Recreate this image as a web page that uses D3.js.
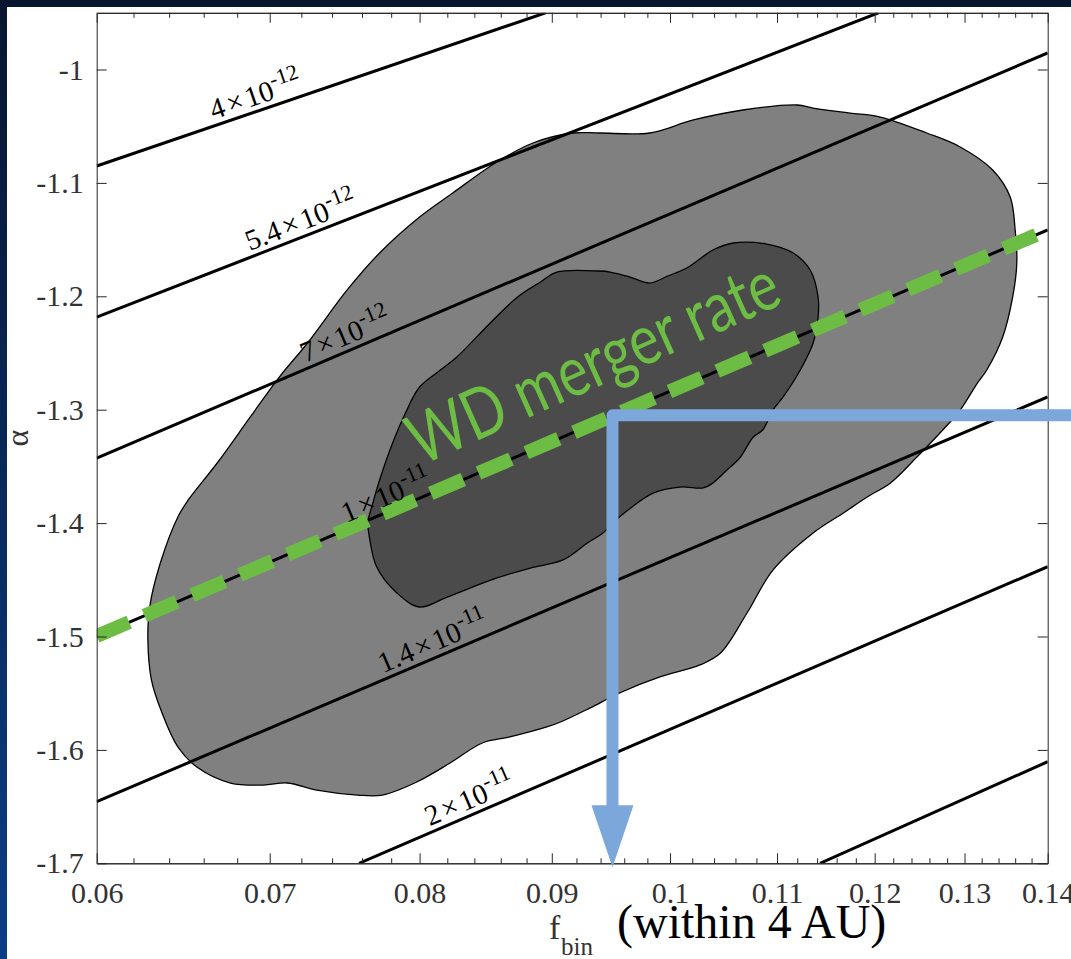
<!DOCTYPE html>
<html>
<head>
<meta charset="utf-8">
<script src="https://cdn.jsdelivr.net/npm/d3@7"></script>
<style>
  html, body { margin: 0; padding: 0; background: #0a1d45; }
  svg { display: block; }
</style>
</head>
<body>
<svg id="chart" width="1071" height="959"></svg>
<script>
// ---- axis ticks ----
const xTicks = [0.06, 0.07, 0.08, 0.09, 0.10, 0.11, 0.12, 0.13, 0.14];
const xTickLabels = ["0.06", "0.07", "0.08", "0.09", "0.1", "0.11", "0.12", "0.13", "0.14"];
const yTicks = [-1.7, -1.6, -1.5, -1.4, -1.3, -1.2, -1.1, -1.0];
const yTickLabels = ["-1.7", "-1.6", "-1.5", "-1.4", "-1.3", "-1.2", "-1.1", "-1"];

// ---- credible regions (f_bin, alpha) ----
const outerRegion = [
  [0.0939,-1.056],[0.0982,-1.056],[0.1021,-1.0445],[0.1067,-1.0357],[0.1120,-1.0313],[0.1136,-1.034],
  [0.1174,-1.0384],[0.1206,-1.0419],[0.1257,-1.056],[0.1295,-1.0683],[0.1333,-1.0886],[0.1354,-1.1124],
  [0.1360,-1.1415],[0.1362,-1.1706],[0.1357,-1.2006],[0.1345,-1.2359],[0.1326,-1.265],[0.1315,-1.2765],
  [0.1295,-1.3003],[0.1275,-1.3179],[0.1246,-1.3417],[0.1217,-1.3646],[0.1192,-1.377],[0.1167,-1.3911],
  [0.1136,-1.4087],[0.1096,-1.4414],[0.1071,-1.4793],[0.1046,-1.5146],[0.1027,-1.5251],[0.0991,-1.5357],
  [0.0956,-1.5498],[0.0931,-1.5631],[0.0907,-1.5754],[0.0896,-1.5798],[0.0867,-1.5886],[0.0846,-1.5939],
  [0.0822,-1.6116],[0.0798,-1.6283],[0.0774,-1.6398],[0.0757,-1.6398],[0.0730,-1.6354],[0.0711,-1.6292],
  [0.0696,-1.631],[0.0676,-1.6292],[0.0656,-1.6151],[0.0645,-1.5974],[0.0636,-1.5675],[0.0630,-1.5384],
  [0.0628,-1.5031],[0.0629,-1.474],[0.0635,-1.4352],[0.0645,-1.3946],[0.0651,-1.3796],[0.0668,-1.347],
  [0.0688,-1.3064],[0.0706,-1.2712],[0.0724,-1.2412],[0.0750,-1.1944],[0.0772,-1.1618],[0.0800,-1.1301],
  [0.0824,-1.1089],[0.0857,-1.0816],[0.0885,-1.0648],[0.0917,-1.056]
];
const innerRegion = [
  [0.0764,-1.399],[0.0767,-1.384],[0.0772,-1.362],[0.0781,-1.3294],[0.0790,-1.3029],[0.0800,-1.280],
  [0.0815,-1.265],[0.0827,-1.2535],[0.0852,-1.2235],[0.0873,-1.2006],[0.0891,-1.1874],[0.0904,-1.1786],
  [0.0939,-1.1777],[0.0948,-1.1786],[0.0965,-1.183],[0.0982,-1.1883],[0.0998,-1.1821],[0.1015,-1.175],
  [0.1039,-1.1592],[0.1058,-1.153],[0.1090,-1.1539],[0.1116,-1.1618],[0.1133,-1.1768],[0.1141,-1.2006],
  [0.1141,-1.2183],[0.1136,-1.2412],[0.1123,-1.265],[0.1106,-1.2888],[0.1096,-1.3003],[0.1086,-1.3179],
  [0.1077,-1.3241],[0.1064,-1.3426],[0.1052,-1.3532],[0.1039,-1.3646],[0.1030,-1.369],[0.1009,-1.3682],
  [0.0985,-1.3735],[0.0956,-1.3946],[0.0942,-1.4087],[0.0929,-1.4175],[0.0909,-1.4325],[0.0883,-1.4396],
  [0.0857,-1.4484],[0.0820,-1.4652],[0.0800,-1.474],[0.0784,-1.4616],[0.0770,-1.4387],[0.0765,-1.4123]
];

// ---- merger-rate iso-lines: end points (f_bin, alpha) ----
const rateLines = [
  [[0.06, -1.0851], [0.0895, -0.95]],
  [[0.06, -1.2183], [0.1204, -0.95]],
  [[0.06, -1.3426], [0.14, -0.9854]],
  [[0.06, -1.4996], [0.14, -1.1415]],
  [[0.06, -1.6457], [0.14, -1.2888]],
  [[0.0758, -1.70], [0.14, -1.4384]],
  [[0.1143, -1.70], [0.14, -1.6104]]
];
const rateMantissa = ["4", "5.4", "7", "1", "1.4", "2", null];
const rateExponent = ["-12", "-12", "-12", "-11", "-11", "-11", null];
const rateLabelF = [0.0667, 0.0689, 0.0724, 0.0751, 0.0776, 0.0809, null];

// ---- WD merger rate line and read-off arrow ----
const mergerLine = [[0.06, -1.4996], [0.14, -1.1415]];
const mergerText = "WD merger rate";
const mergerTextAt = [0.0801, -1.3497];
const readOff = [0.095, -1.305];

// ---- layout ----
const W = 1071, H = 959;
const svg = d3.select("#chart");
const x = d3.scaleLog().domain([0.06, 0.14]).range([96.7, 1047.7]);
const y = d3.scaleLinear().domain([-1.7, -0.95]).range([863.3, 12.8]);
const [x0, x1] = x.range();
const [yb, yt] = y.range();

// background
const defs = svg.append("defs");
const bg = defs.append("linearGradient").attr("id", "space")
  .attr("x1", 0).attr("y1", 0).attr("x2", 0).attr("y2", 1);
bg.append("stop").attr("offset", 0).attr("stop-color", "#07152f");
bg.append("stop").attr("offset", 1).attr("stop-color", "#0b3d85");
svg.append("rect").attr("width", W).attr("height", H).attr("fill", "url(#space)");
svg.append("rect").attr("x", 7).attr("y", 7).attr("width", W - 7).attr("height", H - 7).attr("fill", "#ffffff");

defs.append("clipPath").attr("id", "plotclip").append("rect")
  .attr("x", x0).attr("y", yt).attr("width", x1 - x0).attr("height", yb - yt);

const plot = svg.append("g").attr("clip-path", "url(#plotclip)");

const area = d3.line().x(d => x(d[0])).y(d => y(d[1])).curve(d3.curveCatmullRomClosed.alpha(0.5));
plot.append("path").attr("d", area(outerRegion))
  .attr("fill", "#808080").attr("stroke", "#000").attr("stroke-width", 1.3);
plot.append("path").attr("d", area(innerRegion))
  .attr("fill", "#4b4b4b").attr("stroke", "#000").attr("stroke-width", 1.3);

// iso-lines
const seg = d3.line().x(d => x(d[0])).y(d => y(d[1]));
plot.selectAll("path.rate").data(rateLines).join("path")
  .attr("class", "rate")
  .attr("d", d => seg(d))
  .attr("fill", "none").attr("stroke", "#000").attr("stroke-width", 3);

// iso-line labels
function lineAt(line, f) {
  const [a, b] = line;
  const px0 = x(a[0]), py0 = y(a[1]), px1 = x(b[0]), py1 = y(b[1]);
  const px = x(f);
  const t = (px - px0) / (px1 - px0);
  return { px, py: py0 + t * (py1 - py0), ang: Math.atan2(py1 - py0, px1 - px0) * 180 / Math.PI };
}
rateLines.forEach((line, i) => {
  if (rateMantissa[i] === null) return;
  const p = lineAt(line, rateLabelF[i]);
  const t = svg.append("text")
    .attr("transform", `translate(${p.px},${p.py}) rotate(${p.ang})`)
    .attr("y", -6)
    .attr("font-family", "'Liberation Serif', 'Times New Roman', serif")
    .attr("font-size", 29).attr("fill", "#000");
  t.append("tspan").text(rateMantissa[i]);
  t.append("tspan").attr("dx", 3).text("×");
  t.append("tspan").attr("dx", 3).text("10");
  t.append("tspan").attr("dy", -12).attr("font-size", 22).text(rateExponent[i]);
});

// WD merger rate dashed line
plot.append("path").attr("d", seg(mergerLine))
  .attr("fill", "none").attr("stroke", "#6dbd45").attr("stroke-width", 14)
  .attr("stroke-dasharray", "35.3,16.6");

const mAng = Math.atan2(y(mergerLine[1][1]) - y(mergerLine[0][1]), x(mergerLine[1][0]) - x(mergerLine[0][0])) * 180 / Math.PI;
svg.append("text")
  .attr("transform", `translate(${x(mergerTextAt[0])},${y(mergerTextAt[1])}) rotate(${mAng - 1.0}) scale(0.8,1)`)
  .attr("font-family", "Lato, 'Open Sans', sans-serif")
  .attr("font-size", 70).attr("fill", "#6dbd45")
  .text(mergerText);

// axes
const axisColor = "#262626";
const tickFont = "'Liberation Serif', 'Times New Roman', serif";
const xMinor = d3.range(60, 141, 2).filter(v => v % 10 !== 0).map(v => v / 1000);

function styleAxis(g) {
  g.selectAll("path.domain").attr("stroke", axisColor).attr("stroke-width", 1);
  g.selectAll(".tick line").attr("stroke", axisColor).attr("stroke-width", 1);
  g.selectAll(".tick text").attr("font-family", tickFont).attr("font-size", 30).attr("fill", "#333");
}

svg.append("g").attr("transform", `translate(0,${yb})`)
  .call(d3.axisBottom(x).tickValues(xTicks).tickFormat((d, i) => xTickLabels[i])
    .tickSizeInner(-10).tickSizeOuter(0).tickPadding(18))
  .call(styleAxis);
svg.append("g").attr("transform", `translate(0,${yb})`)
  .call(d3.axisBottom(x).tickValues(xMinor).tickFormat("").tickSizeInner(-5).tickSizeOuter(0))
  .call(styleAxis);
svg.append("g").attr("transform", `translate(0,${yt})`)
  .call(d3.axisTop(x).tickValues(xTicks).tickFormat("").tickSizeInner(-10).tickSizeOuter(0))
  .call(styleAxis);
svg.append("g").attr("transform", `translate(0,${yt})`)
  .call(d3.axisTop(x).tickValues(xMinor).tickFormat("").tickSizeInner(-5).tickSizeOuter(0))
  .call(styleAxis);
svg.append("g").attr("transform", `translate(${x0},0)`)
  .call(d3.axisLeft(y).tickValues(yTicks).tickFormat((d, i) => yTickLabels[i])
    .tickSizeInner(-10).tickSizeOuter(0).tickPadding(13))
  .call(styleAxis);
svg.append("g").attr("transform", `translate(${x1},0)`)
  .call(d3.axisRight(y).tickValues(yTicks).tickFormat("").tickSizeInner(-10).tickSizeOuter(0))
  .call(styleAxis);

// axis titles
svg.append("text")
  .attr("transform", `translate(28,${(yt + yb) / 2}) rotate(-90)`)
  .attr("text-anchor", "middle")
  .attr("font-family", tickFont).attr("font-size", 32).attr("fill", "#333")
  .text("α");

const xt = svg.append("text").attr("font-family", tickFont);
xt.append("tspan").attr("x", 549).attr("y", 939).attr("font-size", 34).attr("fill", "#333").text("f");
xt.append("tspan").attr("x", 561).attr("y", 955).attr("font-size", 25).attr("fill", "#333").text("bin");
xt.append("tspan").attr("x", 617).attr("y", 938).attr("font-size", 48).attr("fill", "#000").text("(within 4 AU)");

// read-off arrow from the merger-rate line down to the f_bin axis
const ax = x(readOff[0]), ay = y(readOff[1]);
const headTop = yb - 58, headTip = yb + 4;
svg.append("path")
  .attr("d", `M${W + 10},${ay} L${ax},${ay} L${ax},${headTop + 2}`)
  .attr("fill", "none").attr("stroke", "#7ba7da").attr("stroke-width", 12)
  .attr("stroke-linejoin", "round");
svg.append("path")
  .attr("d", `M${ax - 21},${headTop} L${ax + 21},${headTop} L${ax},${headTip} Z`)
  .attr("fill", "#7ba7da");
</script>
</body>
</html>
